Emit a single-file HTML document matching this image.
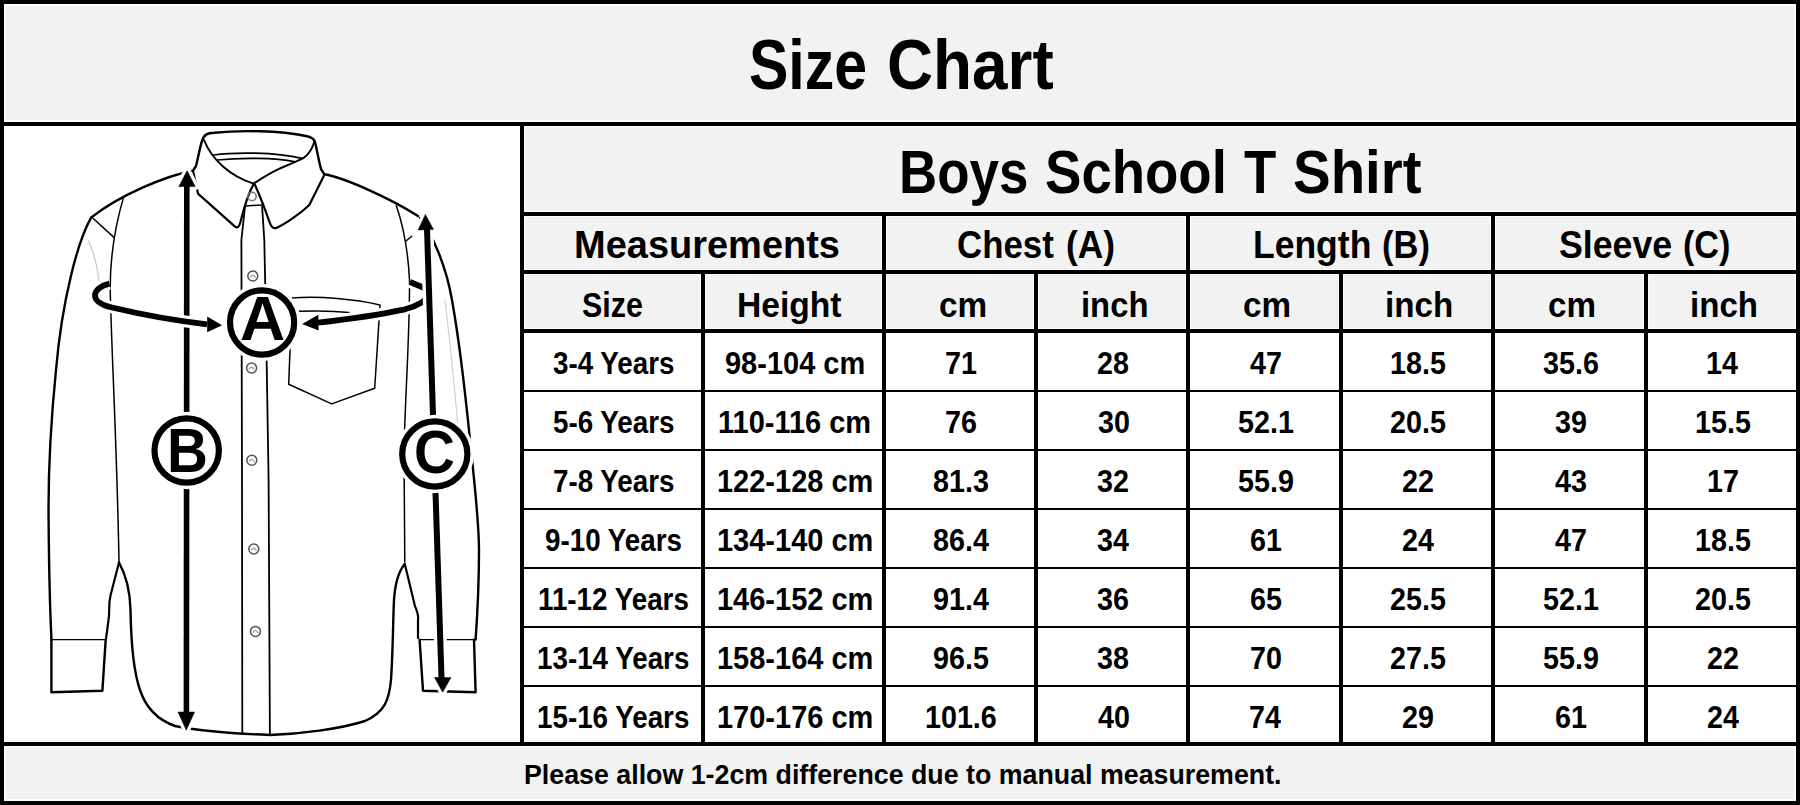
<!DOCTYPE html>
<html><head><meta charset="utf-8"><title>Size Chart</title>
<style>
html,body{margin:0;padding:0;background:#000;}
#p{position:relative;width:1800px;height:805px;overflow:hidden;background:#000;}
.c{position:absolute;}
.t{position:absolute;font-family:"Liberation Sans",sans-serif;font-weight:bold;line-height:1;white-space:nowrap;color:#000;transform-origin:0 0;}
svg{position:absolute;left:0;top:0;}
</style></head><body><div id="p">
<div class="c" style="left:4px;top:4px;width:1792px;height:118px;background:#f2f2f2;box-shadow:inset 0 0 0 2px #fff"></div>
<div class="c" style="left:4px;top:126px;width:516px;height:616px;background:#fff;box-shadow:inset 0 0 0 0px #fff"></div>
<div class="c" style="left:524px;top:126px;width:1272px;height:86px;background:#f2f2f2;box-shadow:inset 0 0 0 1px #fff"></div>
<div class="c" style="left:524px;top:216px;width:358px;height:54px;background:#f2f2f2;box-shadow:inset 0 0 0 1px #fff"></div>
<div class="c" style="left:886px;top:216px;width:300px;height:54px;background:#f2f2f2;box-shadow:inset 0 0 0 1px #fff"></div>
<div class="c" style="left:1190px;top:216px;width:301px;height:54px;background:#f2f2f2;box-shadow:inset 0 0 0 1px #fff"></div>
<div class="c" style="left:1495px;top:216px;width:301px;height:54px;background:#f2f2f2;box-shadow:inset 0 0 0 1px #fff"></div>
<div class="c" style="left:524px;top:274px;width:177px;height:55px;background:#f2f2f2;box-shadow:inset 0 0 0 1px #fff"></div>
<div class="c" style="left:705px;top:274px;width:177px;height:55px;background:#f2f2f2;box-shadow:inset 0 0 0 1px #fff"></div>
<div class="c" style="left:886px;top:274px;width:148px;height:55px;background:#f2f2f2;box-shadow:inset 0 0 0 1px #fff"></div>
<div class="c" style="left:1038px;top:274px;width:148px;height:55px;background:#f2f2f2;box-shadow:inset 0 0 0 1px #fff"></div>
<div class="c" style="left:1190px;top:274px;width:149px;height:55px;background:#f2f2f2;box-shadow:inset 0 0 0 1px #fff"></div>
<div class="c" style="left:1343px;top:274px;width:148px;height:55px;background:#f2f2f2;box-shadow:inset 0 0 0 1px #fff"></div>
<div class="c" style="left:1495px;top:274px;width:149px;height:55px;background:#f2f2f2;box-shadow:inset 0 0 0 1px #fff"></div>
<div class="c" style="left:1648px;top:274px;width:148px;height:55px;background:#f2f2f2;box-shadow:inset 0 0 0 1px #fff"></div>
<div class="c" style="left:524px;top:333px;width:177px;height:57px;background:#fff;box-shadow:inset 0 0 0 0px #fff"></div>
<div class="c" style="left:705px;top:333px;width:177px;height:57px;background:#fff;box-shadow:inset 0 0 0 0px #fff"></div>
<div class="c" style="left:886px;top:333px;width:148px;height:57px;background:#fff;box-shadow:inset 0 0 0 0px #fff"></div>
<div class="c" style="left:1038px;top:333px;width:148px;height:57px;background:#fff;box-shadow:inset 0 0 0 0px #fff"></div>
<div class="c" style="left:1190px;top:333px;width:149px;height:57px;background:#fff;box-shadow:inset 0 0 0 0px #fff"></div>
<div class="c" style="left:1343px;top:333px;width:148px;height:57px;background:#fff;box-shadow:inset 0 0 0 0px #fff"></div>
<div class="c" style="left:1495px;top:333px;width:149px;height:57px;background:#fff;box-shadow:inset 0 0 0 0px #fff"></div>
<div class="c" style="left:1648px;top:333px;width:148px;height:57px;background:#fff;box-shadow:inset 0 0 0 0px #fff"></div>
<div class="c" style="left:524px;top:392px;width:177px;height:57px;background:#fff;box-shadow:inset 0 0 0 0px #fff"></div>
<div class="c" style="left:705px;top:392px;width:177px;height:57px;background:#fff;box-shadow:inset 0 0 0 0px #fff"></div>
<div class="c" style="left:886px;top:392px;width:148px;height:57px;background:#fff;box-shadow:inset 0 0 0 0px #fff"></div>
<div class="c" style="left:1038px;top:392px;width:148px;height:57px;background:#fff;box-shadow:inset 0 0 0 0px #fff"></div>
<div class="c" style="left:1190px;top:392px;width:149px;height:57px;background:#fff;box-shadow:inset 0 0 0 0px #fff"></div>
<div class="c" style="left:1343px;top:392px;width:148px;height:57px;background:#fff;box-shadow:inset 0 0 0 0px #fff"></div>
<div class="c" style="left:1495px;top:392px;width:149px;height:57px;background:#fff;box-shadow:inset 0 0 0 0px #fff"></div>
<div class="c" style="left:1648px;top:392px;width:148px;height:57px;background:#fff;box-shadow:inset 0 0 0 0px #fff"></div>
<div class="c" style="left:524px;top:451px;width:177px;height:57px;background:#fff;box-shadow:inset 0 0 0 0px #fff"></div>
<div class="c" style="left:705px;top:451px;width:177px;height:57px;background:#fff;box-shadow:inset 0 0 0 0px #fff"></div>
<div class="c" style="left:886px;top:451px;width:148px;height:57px;background:#fff;box-shadow:inset 0 0 0 0px #fff"></div>
<div class="c" style="left:1038px;top:451px;width:148px;height:57px;background:#fff;box-shadow:inset 0 0 0 0px #fff"></div>
<div class="c" style="left:1190px;top:451px;width:149px;height:57px;background:#fff;box-shadow:inset 0 0 0 0px #fff"></div>
<div class="c" style="left:1343px;top:451px;width:148px;height:57px;background:#fff;box-shadow:inset 0 0 0 0px #fff"></div>
<div class="c" style="left:1495px;top:451px;width:149px;height:57px;background:#fff;box-shadow:inset 0 0 0 0px #fff"></div>
<div class="c" style="left:1648px;top:451px;width:148px;height:57px;background:#fff;box-shadow:inset 0 0 0 0px #fff"></div>
<div class="c" style="left:524px;top:510px;width:177px;height:57px;background:#fff;box-shadow:inset 0 0 0 0px #fff"></div>
<div class="c" style="left:705px;top:510px;width:177px;height:57px;background:#fff;box-shadow:inset 0 0 0 0px #fff"></div>
<div class="c" style="left:886px;top:510px;width:148px;height:57px;background:#fff;box-shadow:inset 0 0 0 0px #fff"></div>
<div class="c" style="left:1038px;top:510px;width:148px;height:57px;background:#fff;box-shadow:inset 0 0 0 0px #fff"></div>
<div class="c" style="left:1190px;top:510px;width:149px;height:57px;background:#fff;box-shadow:inset 0 0 0 0px #fff"></div>
<div class="c" style="left:1343px;top:510px;width:148px;height:57px;background:#fff;box-shadow:inset 0 0 0 0px #fff"></div>
<div class="c" style="left:1495px;top:510px;width:149px;height:57px;background:#fff;box-shadow:inset 0 0 0 0px #fff"></div>
<div class="c" style="left:1648px;top:510px;width:148px;height:57px;background:#fff;box-shadow:inset 0 0 0 0px #fff"></div>
<div class="c" style="left:524px;top:569px;width:177px;height:57px;background:#fff;box-shadow:inset 0 0 0 0px #fff"></div>
<div class="c" style="left:705px;top:569px;width:177px;height:57px;background:#fff;box-shadow:inset 0 0 0 0px #fff"></div>
<div class="c" style="left:886px;top:569px;width:148px;height:57px;background:#fff;box-shadow:inset 0 0 0 0px #fff"></div>
<div class="c" style="left:1038px;top:569px;width:148px;height:57px;background:#fff;box-shadow:inset 0 0 0 0px #fff"></div>
<div class="c" style="left:1190px;top:569px;width:149px;height:57px;background:#fff;box-shadow:inset 0 0 0 0px #fff"></div>
<div class="c" style="left:1343px;top:569px;width:148px;height:57px;background:#fff;box-shadow:inset 0 0 0 0px #fff"></div>
<div class="c" style="left:1495px;top:569px;width:149px;height:57px;background:#fff;box-shadow:inset 0 0 0 0px #fff"></div>
<div class="c" style="left:1648px;top:569px;width:148px;height:57px;background:#fff;box-shadow:inset 0 0 0 0px #fff"></div>
<div class="c" style="left:524px;top:628px;width:177px;height:57px;background:#fff;box-shadow:inset 0 0 0 0px #fff"></div>
<div class="c" style="left:705px;top:628px;width:177px;height:57px;background:#fff;box-shadow:inset 0 0 0 0px #fff"></div>
<div class="c" style="left:886px;top:628px;width:148px;height:57px;background:#fff;box-shadow:inset 0 0 0 0px #fff"></div>
<div class="c" style="left:1038px;top:628px;width:148px;height:57px;background:#fff;box-shadow:inset 0 0 0 0px #fff"></div>
<div class="c" style="left:1190px;top:628px;width:149px;height:57px;background:#fff;box-shadow:inset 0 0 0 0px #fff"></div>
<div class="c" style="left:1343px;top:628px;width:148px;height:57px;background:#fff;box-shadow:inset 0 0 0 0px #fff"></div>
<div class="c" style="left:1495px;top:628px;width:149px;height:57px;background:#fff;box-shadow:inset 0 0 0 0px #fff"></div>
<div class="c" style="left:1648px;top:628px;width:148px;height:57px;background:#fff;box-shadow:inset 0 0 0 0px #fff"></div>
<div class="c" style="left:524px;top:687px;width:177px;height:55px;background:#fff;box-shadow:inset 0 0 0 0px #fff"></div>
<div class="c" style="left:705px;top:687px;width:177px;height:55px;background:#fff;box-shadow:inset 0 0 0 0px #fff"></div>
<div class="c" style="left:886px;top:687px;width:148px;height:55px;background:#fff;box-shadow:inset 0 0 0 0px #fff"></div>
<div class="c" style="left:1038px;top:687px;width:148px;height:55px;background:#fff;box-shadow:inset 0 0 0 0px #fff"></div>
<div class="c" style="left:1190px;top:687px;width:149px;height:55px;background:#fff;box-shadow:inset 0 0 0 0px #fff"></div>
<div class="c" style="left:1343px;top:687px;width:148px;height:55px;background:#fff;box-shadow:inset 0 0 0 0px #fff"></div>
<div class="c" style="left:1495px;top:687px;width:149px;height:55px;background:#fff;box-shadow:inset 0 0 0 0px #fff"></div>
<div class="c" style="left:1648px;top:687px;width:148px;height:55px;background:#fff;box-shadow:inset 0 0 0 0px #fff"></div>
<div class="c" style="left:4px;top:746px;width:1792px;height:55px;background:#f2f2f2;box-shadow:inset 0 0 0 2px #fff"></div>
<svg width="524" height="746" viewBox="0 0 524 746">
<g fill="none" stroke="#000" stroke-linecap="round" stroke-linejoin="round">
<!-- thin gray inner sleeve lines -->
<path d="M88.5 241 C95 255 99 270 100 295" stroke="#c8c8c8" stroke-width="1.2"/>
<path d="M445 300 C452 360 458 420 462 480" stroke="#d0d0d0" stroke-width="1.2"/>
<!-- collar back band + shoulders -->
<path stroke-width="2.4" d="M91.3 217.4 C120 195 165 176 193 170.7 L196 166 C198 158 200 147 202 141 C204 134 208 133 214 132.8 C240 130 280 130.5 306 136 C312 137 314 139 315 142 C317 150 319 162 321 169 L324.3 174.3 C345 178 390 198 418 216"/>
<!-- collar folds -->
<path stroke-width="2" d="M204 140 C212 160 230 176 253.6 183.6 C262 178 270 173 278 169.3 C288 165 298 161 303.6 157.9 C308 155 312 149 314.3 142"/>
<path stroke-width="2.2" d="M193 171 L198 193.6 L235 226.6 Q238.5 229.5 240.5 222 C243 212 246 198 253.6 184"/>
<path stroke-width="2.2" d="M324.3 175 L309.3 205 C300 214 285 224 276.4 227.9 Q272 229.5 269.5 222 C266 212 261 198 255 185"/>
<path stroke-width="1.7" d="M213.5 155 C235 152 275 152 302 158.4"/>
<path stroke-width="1.7" d="M217 160 C240 157.5 275 157.5 295 161.8"/>
<!-- placket -->
<path stroke-width="1.8" d="M245 206.4 L241.4 240 L242 480 L242.3 733.5"/>
<path stroke-width="1.8" d="M262.1 206.4 L264.3 240 L266 322 L268.6 480 L269.9 735"/>
<path stroke-width="1.5" d="M245 206 L262 205"/>
<!-- left sleeve -->
<path stroke-width="1.5" d="M123.5 197.4 C114 230 109 265 110.5 300 C112 360 117 450 119 562"/>
<path stroke-width="1.5" d="M93 218.3 L113.9 237.4"/>
<path stroke-width="2.4" d="M91.3 217.4 C78 240 62 300 56 370 C50 430 48 470 48.6 520 C49 570 50 610 51.5 640"/>
<path stroke-width="2.4" d="M51.4 639.6 L51.4 692.3 L102.4 690.7 L105.7 639.6"/>
<path stroke-width="1.4" d="M51.4 639.6 L105.7 639.6"/>
<path stroke-width="2.2" d="M106 639 L108.5 620 C110 612 108 606 110.6 595 L119 562.5"/>
<!-- body side + hem -->
<path stroke-width="2.4" d="M119 562.5 C126 575 130 590 130.5 610 C131 640 133 670 140 690 C146 708 158 720 175 726 C200 731 230 733.5 270 735 C300 734 340 729 365 721 C385 712 389 700 391 680 C393 650 393 620 394 600 C395 585 398 572 404.8 564"/>
<!-- right sleeve -->
<path stroke-width="2.2" d="M404.8 564 L414.7 605 C417 612 419 615 418 620 L418 638"/>
<path stroke-width="2.4" d="M419.6 639.6 L423 690.7 L475.6 692.3 L474 639.6"/>
<path stroke-width="1.4" d="M419.6 639.6 L474 639.6"/>
<path stroke-width="2.4" d="M420 218 C432 234 446 265 452 300 C460 345 466 400 470 440 C474 480 479 520 479 550 C479 590 477 620 475.6 639.6"/>
<path stroke-width="1.5" d="M396.3 205.5 C403 225 408 250 409.5 280 C410 330 405 400 404 450 L404.8 562"/>
<path stroke-width="1.5" d="M406 241 L411.7 236.2"/>
<!-- pocket -->
<path stroke-width="1.5" d="M292 298 C320 296 355 299 380 305 L374.7 388.2 L331.7 403.9 L288.7 384.3 Z"/>
<path stroke-width="1.5" d="M299 311.3 C320 310.5 340 311.5 349 312.6"/>
<!-- buttons -->
<g stroke="#555" stroke-width="1.5">
<circle cx="252.8" cy="276" r="5"/><path d="M250.3 277 Q252.8 273 255.3 277.5" stroke="#999" stroke-width="1.2"/>
<circle cx="251.6" cy="368" r="5"/><path d="M249.1 369 Q251.6 365 254.1 369.5" stroke="#999" stroke-width="1.2"/>
<circle cx="251.8" cy="460.2" r="5"/><path d="M249.3 461.2 Q251.8 457.2 254.3 461.7" stroke="#999" stroke-width="1.2"/>
<circle cx="253.8" cy="549" r="5"/><path d="M251.3 550 Q253.8 546 256.3 550.5" stroke="#999" stroke-width="1.2"/>
<circle cx="255.5" cy="631.4" r="5"/><path d="M253.0 632.4 Q255.5 628.4 258.0 632.9" stroke="#999" stroke-width="1.2"/>
<circle cx="252" cy="196.4" r="4.2" stroke="#777"/>
</g>
</g>
<!-- B arrow with halo -->
<g stroke="#fff" fill="#fff" stroke-linejoin="round">
<path d="M186.8 186 L186.4 712" stroke-width="12.6"/>
<polygon points="187.1,170.7 178.8,186.5 195.2,186.5" stroke-width="7"/>
<polygon points="178,712 194.6,712 186.3,730.2" stroke-width="7"/>
</g>
<g stroke="#000" fill="#000">
<path d="M186.8 186 L186.4 712" stroke-width="5.6"/>
<polygon points="187.1,170.7 178.8,186.5 195.2,186.5" stroke-width="0.5"/>
<polygon points="178,712 194.6,712 186.3,730.2" stroke-width="0.5"/>
</g>
<!-- chest loops with halo -->
<g fill="none" stroke="#fff" stroke-width="12" stroke-linecap="butt" stroke-linejoin="round">
<path d="M109.5 283.6 C101 285.5 95 290 95 295.4 C95 301 102 305 112 307.5 C135 313 170 320 207 324.3"/>
<path d="M410 282 L422 287 C428 290 429 298 422 302.3 C416 306 410 308 405 309.3 C385 313.5 350 319 318 322.6"/>
</g>
<g fill="#fff" stroke="#fff" stroke-width="6" stroke-linejoin="round">
<polygon points="207.2,316.4 222.1,325.2 207.2,332.3"/>
<polygon points="318.3,314.8 302.1,323.9 318.6,330.4"/>
</g>
<g fill="none" stroke="#000" stroke-width="5.8" stroke-linecap="butt" stroke-linejoin="round">
<path d="M109.5 283.6 C101 285.5 95 290 95 295.4 C95 301 102 305 112 307.5 C135 313 170 320 207 324.3"/>
<path d="M410 282 L422 287 C428 290 429 298 422 302.3 C416 306 410 308 405 309.3 C385 313.5 350 319 318 322.6"/>
</g>
<g fill="#000">
<polygon points="207.2,316.4 222.1,325.2 207.2,332.3"/>
<polygon points="318.3,314.8 302.1,323.9 318.6,330.4"/>
</g>
<!-- C arrow with halo -->
<g stroke="#fff" fill="#fff" stroke-linejoin="round">
<path d="M427 229 L441.5 678" stroke-width="13"/>
<polygon points="425.4,214.4 418.1,230 433.5,229.4" stroke-width="7"/>
<polygon points="434.5,677.5 451,677.5 442.7,692.3" stroke-width="7"/>
</g>
<g stroke="#000" fill="#000">
<path d="M427 229 L441.5 678" stroke-width="6"/>
<polygon points="425.4,214.4 418.1,230 433.5,229.4" stroke-width="0.5"/>
<polygon points="434.5,677.5 451,677.5 442.7,692.3" stroke-width="0.5"/>
</g>
<!-- circles -->
<g fill="#fff">
<circle cx="262.1" cy="322.5" r="38.8"/>
<circle cx="186.7" cy="450.5" r="38.8"/>
<circle cx="434.8" cy="454" r="39.2"/>
</g>
<g fill="none" stroke="#000" stroke-width="6.2">
<circle cx="262.1" cy="322.5" r="32.1"/>
<circle cx="186.7" cy="450.5" r="32.2"/>
<circle cx="434.8" cy="454" r="32.6"/>
</g>
</svg>

<div class="t" style="left:749.08px;top:30.20px;font-size:70.2px;transform:scaleX(0.8407)">Size</div>
<div class="t" style="left:887.11px;top:30.20px;font-size:70.2px;transform:scaleX(0.9094)">Chart</div>
<div class="t" style="left:898.89px;top:140.60px;font-size:61.34px;transform:scaleX(0.8624)">Boys</div>
<div class="t" style="left:1045.25px;top:140.60px;font-size:61.34px;transform:scaleX(0.8895)">School</div>
<div class="t" style="left:1243.50px;top:140.60px;font-size:61.34px;transform:scaleX(0.8614)">T</div>
<div class="t" style="left:1292.62px;top:140.60px;font-size:61.34px;transform:scaleX(0.9201)">Shirt</div>
<div class="t" style="left:573.83px;top:226.30px;font-size:38.66px;transform:scaleX(0.9826)">Measurements</div>
<div class="t" style="left:957.21px;top:226.30px;font-size:38.66px;transform:scaleX(0.9018)">Chest</div>
<div class="t" style="left:1066.14px;top:226.30px;font-size:38.66px;transform:scaleX(0.9136)">(A)</div>
<div class="t" style="left:1252.78px;top:226.30px;font-size:38.66px;transform:scaleX(0.9185)">Length</div>
<div class="t" style="left:1382.28px;top:226.30px;font-size:38.66px;transform:scaleX(0.8918)">(B)</div>
<div class="t" style="left:1558.84px;top:226.30px;font-size:38.66px;transform:scaleX(0.9234)">Sleeve</div>
<div class="t" style="left:1682.80px;top:226.30px;font-size:38.66px;transform:scaleX(0.8819)">(C)</div>
<div class="t" style="left:581.82px;top:288.00px;font-size:35.61px;transform:scaleX(0.8552)">Size</div>
<div class="t" style="left:737.40px;top:288.00px;font-size:35.61px;transform:scaleX(0.9439)">Height</div>
<div class="t" style="left:938.96px;top:288.00px;font-size:35.61px;transform:scaleX(0.9360)">cm</div>
<div class="t" style="left:1080.85px;top:288.00px;font-size:35.61px;transform:scaleX(0.9212)">inch</div>
<div class="t" style="left:1243.16px;top:288.00px;font-size:35.61px;transform:scaleX(0.9340)">cm</div>
<div class="t" style="left:1385.43px;top:288.00px;font-size:35.61px;transform:scaleX(0.9313)">inch</div>
<div class="t" style="left:1548.16px;top:288.00px;font-size:35.61px;transform:scaleX(0.9340)">cm</div>
<div class="t" style="left:1689.93px;top:288.00px;font-size:35.61px;transform:scaleX(0.9285)">inch</div>
<div class="t" style="left:524.03px;top:760.90px;font-size:27.47px;transform:scaleX(0.9749)">Please allow 1-2cm difference due to manual measurement.</div>
<div class="t" style="left:239.62px;top:288.20px;font-size:62.35px;transform:scaleX(1.0031)">A</div>
<div class="t" style="left:166.86px;top:418.80px;font-size:62.79px;transform:scaleX(0.9021)">B</div>
<div class="t" style="left:414.23px;top:422.40px;font-size:60.47px;transform:scaleX(0.9353)">C</div>
<div class="t" style="left:553.05px;top:347.80px;font-size:30.52px;transform:scaleX(0.9100)">3-4 Years</div>
<div class="t" style="left:725.01px;top:347.80px;font-size:30.52px;transform:scaleX(0.9500)">98-104 cm</div>
<div class="t" style="left:945.15px;top:347.80px;font-size:30.52px;transform:scaleX(0.9400)">71</div>
<div class="t" style="left:1097.15px;top:347.80px;font-size:30.52px;transform:scaleX(0.9400)">28</div>
<div class="t" style="left:1250.33px;top:347.80px;font-size:30.52px;transform:scaleX(0.9400)">47</div>
<div class="t" style="left:1389.74px;top:347.80px;font-size:30.52px;transform:scaleX(0.9400)">18.5</div>
<div class="t" style="left:1542.91px;top:347.80px;font-size:30.52px;transform:scaleX(0.9400)">35.6</div>
<div class="t" style="left:1706.26px;top:347.80px;font-size:30.52px;transform:scaleX(0.9400)">14</div>
<div class="t" style="left:553.05px;top:406.80px;font-size:30.52px;transform:scaleX(0.9100)">5-6 Years</div>
<div class="t" style="left:718.10px;top:406.80px;font-size:30.52px;transform:scaleX(0.9500)">110-116 cm</div>
<div class="t" style="left:945.15px;top:406.80px;font-size:30.52px;transform:scaleX(0.9400)">76</div>
<div class="t" style="left:1097.60px;top:406.80px;font-size:30.52px;transform:scaleX(0.9400)">30</div>
<div class="t" style="left:1237.91px;top:406.80px;font-size:30.52px;transform:scaleX(0.9400)">52.1</div>
<div class="t" style="left:1390.19px;top:406.80px;font-size:30.52px;transform:scaleX(0.9400)">20.5</div>
<div class="t" style="left:1554.88px;top:406.80px;font-size:30.52px;transform:scaleX(0.9400)">39</div>
<div class="t" style="left:1694.74px;top:406.80px;font-size:30.52px;transform:scaleX(0.9400)">15.5</div>
<div class="t" style="left:552.83px;top:465.80px;font-size:30.52px;transform:scaleX(0.9100)">7-8 Years</div>
<div class="t" style="left:716.50px;top:465.80px;font-size:30.52px;transform:scaleX(0.9500)">122-128 cm</div>
<div class="t" style="left:933.19px;top:465.80px;font-size:30.52px;transform:scaleX(0.9400)">81.3</div>
<div class="t" style="left:1097.38px;top:465.80px;font-size:30.52px;transform:scaleX(0.9400)">32</div>
<div class="t" style="left:1237.91px;top:465.80px;font-size:30.52px;transform:scaleX(0.9400)">55.9</div>
<div class="t" style="left:1402.15px;top:465.80px;font-size:30.52px;transform:scaleX(0.9400)">22</div>
<div class="t" style="left:1555.10px;top:465.80px;font-size:30.52px;transform:scaleX(0.9400)">43</div>
<div class="t" style="left:1706.93px;top:465.80px;font-size:30.52px;transform:scaleX(0.9400)">17</div>
<div class="t" style="left:545.11px;top:524.80px;font-size:30.52px;transform:scaleX(0.9100)">9-10 Years</div>
<div class="t" style="left:716.50px;top:524.80px;font-size:30.52px;transform:scaleX(0.9500)">134-140 cm</div>
<div class="t" style="left:932.74px;top:524.80px;font-size:30.52px;transform:scaleX(0.9400)">86.4</div>
<div class="t" style="left:1096.93px;top:524.80px;font-size:30.52px;transform:scaleX(0.9400)">34</div>
<div class="t" style="left:1249.65px;top:524.80px;font-size:30.52px;transform:scaleX(0.9400)">61</div>
<div class="t" style="left:1401.71px;top:524.80px;font-size:30.52px;transform:scaleX(0.9400)">24</div>
<div class="t" style="left:1555.33px;top:524.80px;font-size:30.52px;transform:scaleX(0.9400)">47</div>
<div class="t" style="left:1694.74px;top:524.80px;font-size:30.52px;transform:scaleX(0.9400)">18.5</div>
<div class="t" style="left:537.72px;top:583.80px;font-size:30.52px;transform:scaleX(0.9100)">11-12 Years</div>
<div class="t" style="left:716.50px;top:583.80px;font-size:30.52px;transform:scaleX(0.9500)">146-152 cm</div>
<div class="t" style="left:932.74px;top:583.80px;font-size:30.52px;transform:scaleX(0.9400)">91.4</div>
<div class="t" style="left:1097.38px;top:583.80px;font-size:30.52px;transform:scaleX(0.9400)">36</div>
<div class="t" style="left:1249.65px;top:583.80px;font-size:30.52px;transform:scaleX(0.9400)">65</div>
<div class="t" style="left:1390.19px;top:583.80px;font-size:30.52px;transform:scaleX(0.9400)">25.5</div>
<div class="t" style="left:1542.91px;top:583.80px;font-size:30.52px;transform:scaleX(0.9400)">52.1</div>
<div class="t" style="left:1695.19px;top:583.80px;font-size:30.52px;transform:scaleX(0.9400)">20.5</div>
<div class="t" style="left:536.95px;top:642.80px;font-size:30.52px;transform:scaleX(0.9100)">13-14 Years</div>
<div class="t" style="left:716.50px;top:642.80px;font-size:30.52px;transform:scaleX(0.9500)">158-164 cm</div>
<div class="t" style="left:933.19px;top:642.80px;font-size:30.52px;transform:scaleX(0.9400)">96.5</div>
<div class="t" style="left:1097.38px;top:642.80px;font-size:30.52px;transform:scaleX(0.9400)">38</div>
<div class="t" style="left:1249.88px;top:642.80px;font-size:30.52px;transform:scaleX(0.9400)">70</div>
<div class="t" style="left:1390.19px;top:642.80px;font-size:30.52px;transform:scaleX(0.9400)">27.5</div>
<div class="t" style="left:1542.91px;top:642.80px;font-size:30.52px;transform:scaleX(0.9400)">55.9</div>
<div class="t" style="left:1707.15px;top:642.80px;font-size:30.52px;transform:scaleX(0.9400)">22</div>
<div class="t" style="left:536.95px;top:701.80px;font-size:30.52px;transform:scaleX(0.9100)">15-16 Years</div>
<div class="t" style="left:716.50px;top:701.80px;font-size:30.52px;transform:scaleX(0.9500)">170-176 cm</div>
<div class="t" style="left:924.76px;top:701.80px;font-size:30.52px;transform:scaleX(0.9400)">101.6</div>
<div class="t" style="left:1097.83px;top:701.80px;font-size:30.52px;transform:scaleX(0.9400)">40</div>
<div class="t" style="left:1249.21px;top:701.80px;font-size:30.52px;transform:scaleX(0.9400)">74</div>
<div class="t" style="left:1402.15px;top:701.80px;font-size:30.52px;transform:scaleX(0.9400)">29</div>
<div class="t" style="left:1554.65px;top:701.80px;font-size:30.52px;transform:scaleX(0.9400)">61</div>
<div class="t" style="left:1706.71px;top:701.80px;font-size:30.52px;transform:scaleX(0.9400)">24</div>
</div></body></html>
